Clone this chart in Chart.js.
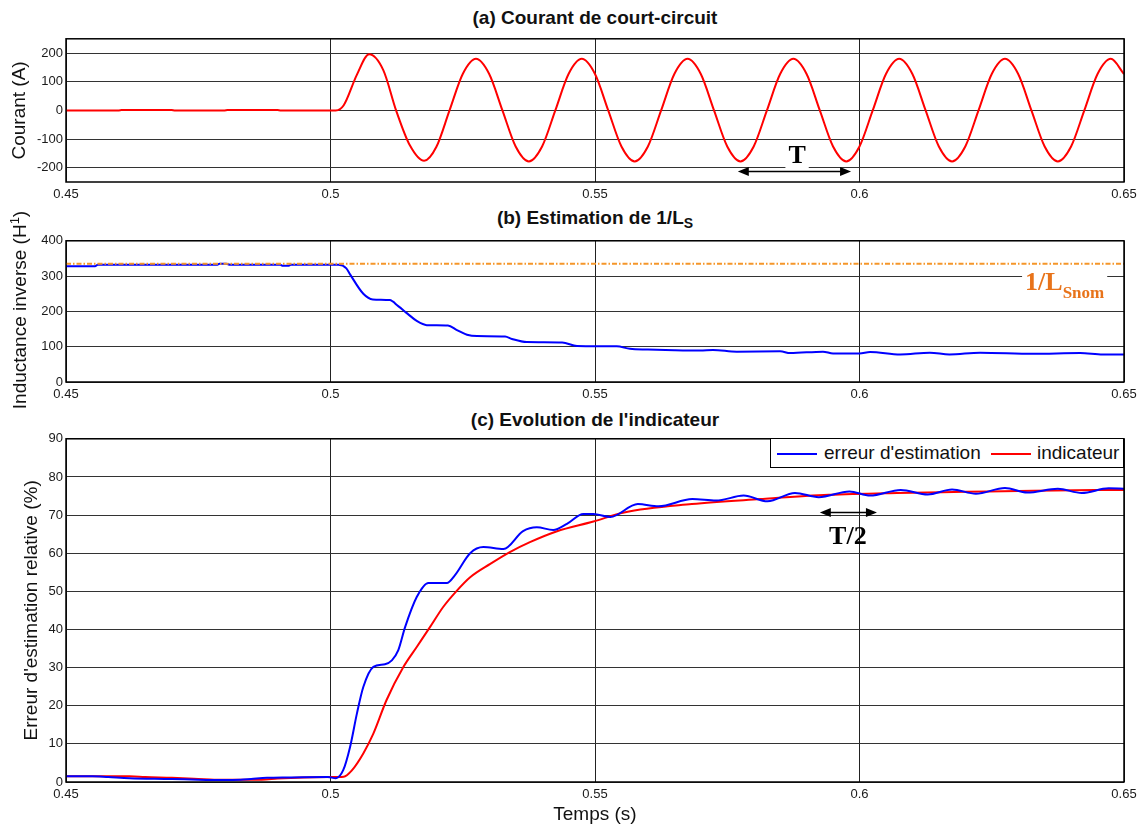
<!DOCTYPE html>
<html>
<head>
<meta charset="utf-8">
<script src="https://cdn.jsdelivr.net/npm/chart.js@4"></script>
<style>
  body { margin: 0; background: #fff; font-family: "Liberation Sans", Arial, sans-serif; }
  #page { position: relative; width: 1144px; height: 829px; overflow: hidden; }
  .box { position: absolute; left: 0; width: 1144px; }
  .title { position: absolute; left: 66px; width: 1058px; text-align: center; font-weight: bold; font-size: 19px; color: #111; line-height: 22px; }
  .title sub { font-size: 14px; vertical-align: -4px; line-height: 0; }
  .ytitle { position: absolute; width: 240px; height: 22px; line-height: 22px; text-align: center; font-size: 19px; color: #111; transform: rotate(-90deg); transform-origin: 50% 50%; }
  .ytitle sup { font-size: 13px; vertical-align: 7px; line-height: 0; }
  #legend { position: absolute; left: 770px; top: 438px; width: 352px; height: 28px; border: 1.5px solid #000; background: #fff; font-size: 19px; color: #111; }
  #legend .ln { position: absolute; top: 14px; height: 2px; width: 40px; }
  #legend .tx { position: absolute; top: 3px; line-height: 22px; }
</style>
</head>
<body>
<div id="page">
  <div class="title" style="top:7px">(a) Courant de court-circuit</div>
  <div class="title" style="top:207px">(b) Estimation de 1/L<sub>S</sub></div>
  <div class="title" style="top:409px">(c) Evolution de l'indicateur</div>

  <div class="box" style="top:28px;height:180px"><canvas id="chartA"></canvas></div>
  <div class="box" style="top:230px;height:178px"><canvas id="chartB"></canvas></div>
  <div class="box" style="top:428px;height:401px"><canvas id="chartC"></canvas></div>

  <!-- the (b) axis label is longer than its plot, so it is laid out here -->
  <div class="ytitle" style="left:-100px;top:299px">Inductance inverse (H<sup>1</sup>)</div>

  <div id="legend">
    <div class="ln" style="left:6px;background:#0000ff"></div>
    <div class="tx" style="left:53px">erreur d'estimation</div>
    <div class="ln" style="left:220px;background:#ff0000"></div>
    <div class="tx" style="left:266px">indicateur</div>
  </div>
</div>

<script>
// ---- shared axis ticks ----
const xTicks = [0.45, 0.5, 0.55, 0.6, 0.65];
const yTicksA = [-200, -100, 0, 100, 200];
const yTicksB = [0, 100, 200, 300, 400];
const yTicksC = [0, 10, 20, 30, 40, 50, 60, 70, 80, 90];

// ---- (a) short-circuit current ----
const tA = [0.45, 0.46, 0.4605, 0.47, 0.4705, 0.48, 0.4805, 0.49, 0.4905, 0.501,
  0.5025, 0.505, 0.5073, 0.51, 0.5124, 0.515, 0.5177, 0.52,
  0.5225, 0.525, 0.5275, 0.53, 0.5325, 0.535, 0.5375, 0.54,
  0.5425, 0.545, 0.5475, 0.55, 0.5525, 0.555, 0.5575, 0.56,
  0.5625, 0.565, 0.5675, 0.57, 0.5725, 0.575, 0.5775, 0.58,
  0.5825, 0.585, 0.5875, 0.59, 0.5925, 0.595, 0.5975, 0.6,
  0.6025, 0.605, 0.6075, 0.61, 0.6125, 0.615, 0.6175, 0.62,
  0.6225, 0.625, 0.6275, 0.63, 0.6325, 0.635, 0.6375, 0.64,
  0.6425, 0.645, 0.6475, 0.65];
const iA = [0, 0, 1, 1, 0, 0, 1, 1, 0, 0,
  18, 125, 196, 140, 0, -122, -176, -128,
  0, 127, 180, 127, 0, -126, -178, -126,
  0, 127, 180, 127, 0, -126, -178, -126,
  0, 127, 180, 127, 0, -126, -178, -126,
  0, 127, 180, 127, 0, -126, -178, -126,
  0, 127, 180, 127, 0, -126, -178, -126,
  0, 127, 180, 127, 0, -126, -178, -126,
  0, 127, 180, 127];

// ---- (b) inverse inductance estimate ----
const tB = [0.45, 0.4555, 0.456, 0.4785, 0.479, 0.4803, 0.481, 0.4905, 0.491, 0.492, 0.4925,
  0.5015, 0.503, 0.5037, 0.5062, 0.508, 0.5112, 0.5128, 0.5146, 0.5163, 0.5182,
  0.5222, 0.5239, 0.5258, 0.5277, 0.533, 0.5343, 0.5371, 0.5438, 0.5466, 0.5541,
  0.5566, 0.56, 0.565, 0.5699, 0.5723, 0.5768, 0.585, 0.5869, 0.5931, 0.595, 0.6,
  0.602, 0.6077, 0.6133, 0.617, 0.6228, 0.6328, 0.6417, 0.646, 0.65];
const LB = [328, 328, 332, 332, 335, 335, 332, 332, 329, 329, 332,
  332, 322, 305, 250, 234, 232, 215, 193, 173, 161,
  160, 147, 134, 130, 129, 122, 113, 112, 102, 101,
  94, 92, 90, 89, 91, 86, 87, 82, 86, 81, 81,
  85, 78, 83, 78, 83, 80, 82, 78, 78];
const tNom = [0.45, 0.65];
const LNom = [335, 335];

// ---- (c) relative estimation error and indicator ----
const tE = [0.45, 0.455, 0.458, 0.462, 0.47, 0.475, 0.48, 0.483, 0.485, 0.488, 0.492, 0.4995,
  0.501, 0.5024, 0.5037, 0.505, 0.5062, 0.5081, 0.5103, 0.5116, 0.5128, 0.5141,
  0.5163, 0.5185, 0.522, 0.5235, 0.5264, 0.5289, 0.5327, 0.5364, 0.539, 0.5421,
  0.5447, 0.5478, 0.5497, 0.5529, 0.5581, 0.562, 0.5684, 0.5729, 0.5781, 0.5826,
  0.5878, 0.5923, 0.5981, 0.602, 0.6078, 0.6129, 0.6175, 0.622, 0.6275, 0.6317,
  0.6375, 0.642, 0.6471, 0.65];
const errE = [1.5, 1.5, 1.3, 1.0, 0.8, 0.6, 0.5, 0.6, 0.8, 1.1, 1.2, 1.3,
  1.0, 3.1, 9.2, 18, 24.9, 30.2, 30.9, 31.9, 34.5, 40.6,
  48.5, 52.2, 52.2, 54.2, 60.0, 61.6, 61.1, 65.8, 66.8, 66.1,
  67.7, 70.3, 70.3, 69.5, 72.9, 72.3, 74.2, 73.8, 75.1, 73.6,
  75.8, 74.7, 76.2, 75.1, 76.6, 75.4, 76.7, 75.6, 77.1, 75.9,
  76.9, 75.8, 77.0, 76.9];
const tI = [0.45, 0.462, 0.465, 0.47, 0.475, 0.478, 0.487, 0.49, 0.495, 0.5, 0.5025,
  0.504, 0.5062, 0.5081, 0.5106, 0.5138, 0.5163, 0.5188, 0.5213, 0.5239, 0.5264,
  0.5302, 0.5339, 0.5377, 0.5427, 0.5497, 0.5555, 0.5683, 0.5813, 0.5942, 0.6071,
  0.62, 0.6329, 0.65];
const indI = [1.5, 1.5, 1.3, 1.1, 0.8, 0.6, 0.6, 0.9, 1.2, 1.3, 1.4,
  3.0, 7.5, 12.7, 21.5, 30.2, 35.4, 40.6, 45.9, 50.2, 53.7,
  57.2, 60.3, 62.9, 65.7, 68.3, 70.7, 72.9, 74.2, 75.3, 75.8,
  76.1, 76.4, 76.6];

const pts = (xs, ys) => xs.map((x, i) => ({ x: x, y: ys[i] }));

// black frame around the plot area (matlab box)
const frame = {
  id: 'frame',
  afterDraw(chart) {
    const { ctx, chartArea: a } = chart;
    ctx.save();
    ctx.strokeStyle = '#000';
    ctx.lineWidth = 1.5;
    ctx.strokeRect(a.left, a.top, a.right - a.left, a.bottom - a.top);
    ctx.restore();
  }
};

// arrows and text marks placed in data units
const marks = {
  id: 'marks',
  beforeDatasetsDraw(chart, args, opts) {
    const { ctx, scales: { x, y } } = chart;
    ctx.save();
    (opts.arrows || []).forEach(a => {
      const x1 = x.getPixelForValue(a.from), x2 = x.getPixelForValue(a.to), py = y.getPixelForValue(a.y);
      ctx.strokeStyle = '#000';
      ctx.fillStyle = '#000';
      ctx.lineWidth = 1.5;
      ctx.beginPath();
      ctx.moveTo(x1 + 6, py);
      ctx.lineTo(x2 - 6, py);
      ctx.stroke();
      [[x1, 1], [x2, -1]].forEach(([px, d]) => {
        ctx.beginPath();
        ctx.moveTo(px, py);
        ctx.lineTo(px + d * 11, py - 4.5);
        ctx.lineTo(px + d * 11, py + 4.5);
        ctx.closePath();
        ctx.fill();
      });
    });
    (opts.labels || []).forEach(l => {
      ctx.font = l.font;
      const w1 = ctx.measureText(l.text).width;
      let w2 = 0;
      if (l.sub) { ctx.font = l.subFont; w2 = ctx.measureText(l.sub).width; }
      const px = x.getPixelForValue(l.x), py = y.getPixelForValue(l.y);
      const x0 = l.align === 'left' ? px : px - (w1 + w2) / 2;
      ctx.fillStyle = '#fff';
      ctx.fillRect(x0 - 3, py - l.up, w1 + w2 + 6, l.up + l.down);
      ctx.fillStyle = l.color;
      ctx.textBaseline = 'alphabetic';
      ctx.textAlign = 'left';
      ctx.font = l.font;
      ctx.fillText(l.text, x0, py);
      if (l.sub) { ctx.font = l.subFont; ctx.fillText(l.sub, x0 + w1, py + 8); }
    });
    ctx.restore();
  }
};

Chart.register(frame, marks);
Chart.defaults.font.family = '"Liberation Sans", Arial, sans-serif';
Chart.defaults.color = '#1a1a1a';

function makeChart(id, datasets, yMin, yMax, yTicks, yTitle, yTitlePad, opts) {
  return new Chart(document.getElementById(id), {
    type: 'line',
    data: { datasets: datasets },
    options: {
      responsive: true,
      maintainAspectRatio: false,
      animation: false,
      layout: { padding: { left: 0, right: 20, top: opts.top, bottom: 0 } },
      elements: { point: { radius: 0 }, line: { borderWidth: 2, cubicInterpolationMode: 'monotone' } },
      plugins: {
        legend: { display: false },
        tooltip: { enabled: false },
        marks: opts.marks || {}
      },
      scales: {
        x: {
          type: 'linear', min: 0.45, max: 0.65,
          afterBuildTicks: s => { s.ticks = xTicks.map(v => ({ value: v })); },
          afterFit: s => { s.height = opts.xh; },
          ticks: { font: { size: 13 }, padding: 5, maxRotation: 0, callback: v => String(+v.toFixed(2)) },
          grid: { color: '#222', drawTicks: false },
          border: { display: false },
          title: opts.xTitle ? { display: true, text: opts.xTitle, font: { size: 19 }, color: '#111', padding: { top: 0, bottom: 3 } } : { display: false }
        },
        y: {
          min: yMin, max: yMax,
          afterBuildTicks: s => { s.ticks = yTicks.map(v => ({ value: v })); },
          afterFit: s => { s.width = 66; },
          ticks: { font: { size: 13 }, padding: 3 },
          grid: { color: '#333', drawTicks: false },
          border: { display: false },
          title: yTitle ? { display: true, text: yTitle, font: { size: 19 }, color: '#111', padding: { top: yTitlePad, bottom: 0 } } : { display: false }
        }
      }
    }
  });
}

makeChart('chartA', [
  { data: pts(tA, iA), borderColor: '#ff0000' }
], -250, 250, yTicksA, 'Courant (A)', 8, {
  top: 9, xh: 26,
  marks: {
    arrows: [{ from: 0.577, to: 0.5984, y: -213 }],
    labels: [{ x: 0.5882, y: -182, text: 'T', font: 'bold 26px "Liberation Serif"', color: '#000', up: 21, down: 7 }]
  }
});

makeChart('chartB', [
  { data: pts(tNom, LNom), borderColor: '#f5962a', borderWidth: 2, borderDash: [5, 2, 1.5, 2], cubicInterpolationMode: 'default', tension: 0 },
  { data: pts(tB, LB), borderColor: '#0000ff' }
], 0, 400, yTicksB, null, 0, {
  top: 9, xh: 26,
  marks: {
    labels: [{ x: 0.6313, y: 260, text: '1/L', sub: 'Snom', align: 'left', font: 'bold 26px "Liberation Serif"', subFont: 'bold 17px "Liberation Serif"', color: '#e8731a', up: 22, down: 12 }]
  }
});

makeChart('chartC', [
  { data: pts(tE, errE), borderColor: '#0000ff' },
  { data: pts(tI, indI), borderColor: '#ff0000' }
], 0, 90, yTicksC, "Erreur d'estimation relative (%)", 20, {
  top: 10, xh: 47, xTitle: 'Temps (s)',
  marks: {
    arrows: [{ from: 0.5925, to: 0.6033, y: 70.7 }],
    labels: [{ x: 0.5978, y: 62.5, text: 'T/2', font: 'bold 26px "Liberation Serif"', color: '#000', up: 0, down: 0 }]
  }
});
</script>
</body>
</html>
